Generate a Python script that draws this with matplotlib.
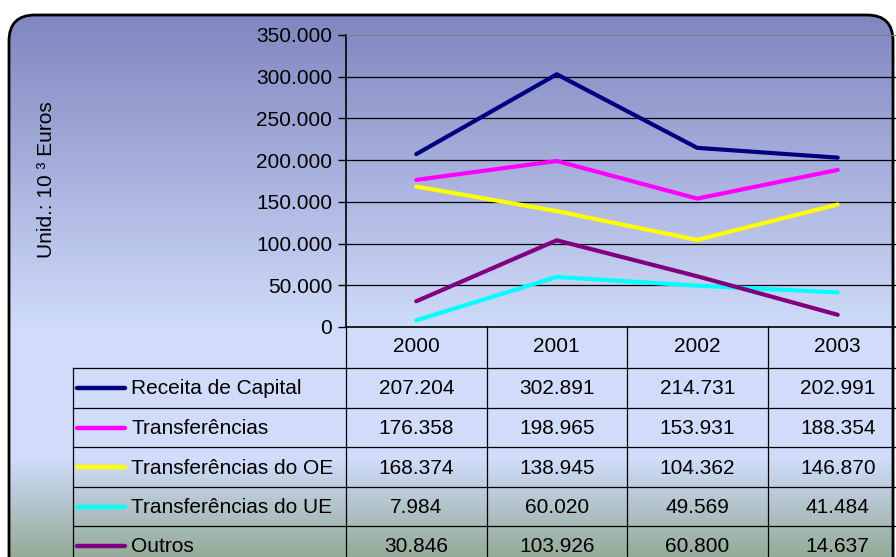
import numpy as np
import matplotlib
matplotlib.use("Agg")
import matplotlib.pyplot as plt
from matplotlib.patches import FancyBboxPatch

plt.rcParams['font.family'] = ['Liberation Sans', 'DejaVu Sans']

years = ['2000', '2001', '2002', '2003']
series_names = ['Receita de Capital', 'Transferências', 'Transferências do OE',
                'Transferências do UE', 'Outros']
receita = [207204, 302891, 214731, 202991]
transf = [176358, 198965, 153931, 188354]
transf_oe = [168374, 138945, 104362, 146870]
transf_ue = [7984, 60020, 49569, 41484]
outros = [30846, 103926, 60800, 14637]
colors = ['#000080', '#ff00ff', '#ffff00', '#00ffff', '#800080']
yticks = [0, 50000, 100000, 150000, 200000, 250000, 300000, 350000]


def fmt(v):
    return f"{v:,}".replace(',', '.')


W, H = 896, 557
fig = plt.figure(figsize=(W / 100, H / 100), dpi=100)
fig.patch.set_facecolor('white')

# background with rounded frame and vertical gradient
bg = fig.add_axes([0, 0, 1, 1])
bg.set_xlim(0, W)
bg.set_ylim(H, 0)
bg.axis('off')
ys = np.arange(H)
stops_y = [15, 330, 458, 557]
stops_c = np.array([[128, 134, 192], [208, 220, 250], [208, 220, 250], [148, 170, 152]]) / 255
grad = np.stack([np.interp(ys, stops_y, stops_c[:, k]) for k in range(3)], axis=1)
img = np.repeat(grad[:, None, :], 2, axis=1)
frame = FancyBboxPatch((9, 15), 884, 600, boxstyle="round,pad=0,rounding_size=26",
                       facecolor='none', edgecolor='black', linewidth=2, zorder=3)
bg.add_patch(frame)
im = bg.imshow(img, extent=[0, W, H, 0], aspect='auto', zorder=1)
im.set_clip_path(frame)

# line chart
x0, x1 = 346, 908
ax = fig.add_axes([x0 / W, 1 - 327 / H, (x1 - x0) / W, (327 - 35) / H])
ax.patch.set_alpha(0)
data = [receita, transf, transf_oe, transf_ue, outros]
xs = np.arange(len(years))
for vals, c in zip(data, colors):
    ax.plot(xs, vals, color=c, lw=3, solid_capstyle='round', solid_joinstyle='miter', zorder=3)
ax.set_xlim(-0.5, 3.5)
ax.set_ylim(0, 350000)
ax.set_yticks(yticks)
ax.set_yticklabels([fmt(v) for v in yticks], fontsize=15)
ax.set_xticks([])
ax.tick_params(axis='y', length=6, width=1, color='black', pad=4)
for v in yticks[1:-1]:
    ax.axhline(v, color='black', lw=0.9, zorder=1)
ax.spines['right'].set_visible(False)
ax.spines['top'].set_color('#808080')
ax.spines['left'].set_color('black')
ax.spines['bottom'].set_color('black')
ax.spines['left'].set_linewidth(1.2)
ax.spines['bottom'].set_linewidth(1.2)

fig.text(47 / W, 1 - 180 / H, 'Unid.: 10 ³ Euros', rotation=90, ha='center', va='center',
         fontsize=15)

# data table below the chart (coordinates: columns across, pixels down)
unit = (x1 - x0) / 4
tl = -0.5 - (x0 - 73) / unit
head_h, row_h = 41, 39.5
top = 327
bottom = top + head_h + 5 * row_h
tb = fig.add_axes([73 / W, 1 - bottom / H, (x1 - 73) / W, (bottom - top) / H])
tb.axis('off')
tb.set_xlim(tl, 3.5)
tb.set_ylim(bottom, top)
lw = 0.9
row_tops = [top + head_h + k * row_h for k in range(5)]
for ry in row_tops:
    tb.plot([tl, 3.5], [ry, ry], color='black', lw=lw, clip_on=False)
tb.plot([tl, tl], [row_tops[0], bottom], color='black', lw=lw, clip_on=False)
for xb in [-0.5, 0.5, 1.5, 2.5]:
    tb.plot([xb, xb], [top, bottom], color='black', lw=lw, clip_on=False)
for i, yr in enumerate(years):
    tb.text(i, top + 20, yr, ha='center', va='center', fontsize=15)
for ry, name, vals, c in zip(row_tops, series_names, data, colors):
    yc = ry + 21
    tb.plot([tl + 4 / unit, tl + 52 / unit], [yc - 1, yc - 1], color=c, lw=3.2,
            solid_capstyle='round')
    tb.text(tl + 58 / unit, yc, name, ha='left', va='center', fontsize=15)
    for i, v in enumerate(vals):
        tb.text(i, yc, fmt(v), ha='center', va='center', fontsize=15)

fig.savefig('out.png', dpi=100)
